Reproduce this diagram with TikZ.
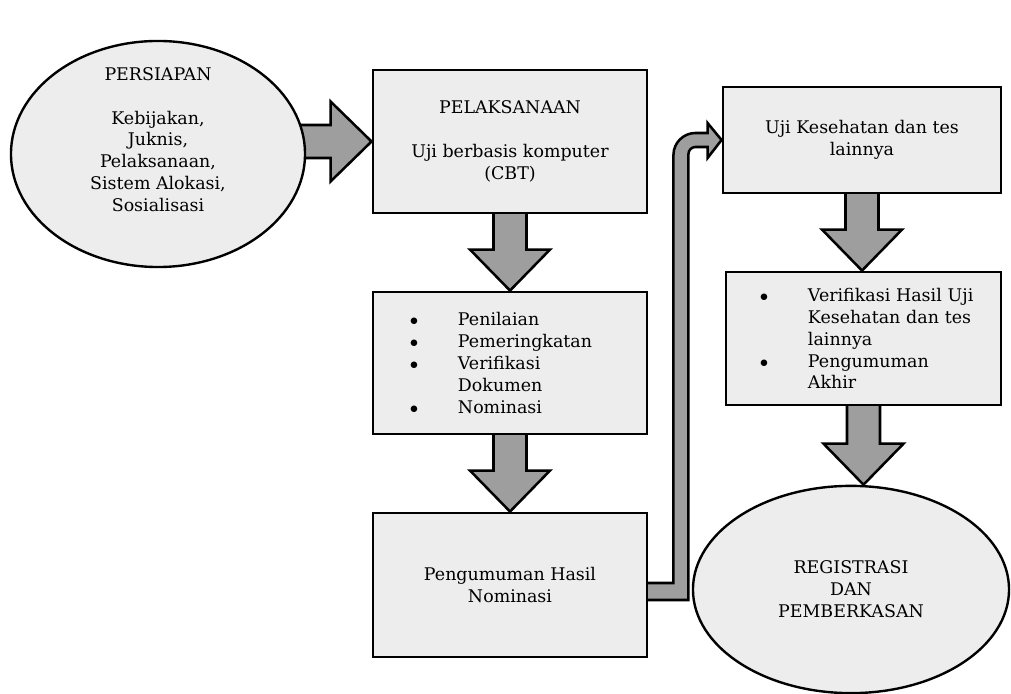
\documentclass[tikz,border=0pt]{standalone}
\usepackage{fontspec}
\setmainfont{DejaVu Serif}
\usetikzlibrary{shapes.geometric,calc,backgrounds}
\tikzset{
  stepfont/.style={font=\fontsize{12.4}{15.6}\selectfont},
  stepbox/.style={rectangle, draw=black, line width=2pt, fill=black!7, inner sep=0pt, align=center, stepfont},
  stepoval/.style={ellipse, draw=black, line width=1.7pt, fill=black!7, inner sep=0pt, align=center, stepfont},
  blockarrow/.style={draw=black, line width=1.8pt, fill=black!38, line join=miter}
}
\def\pix{0.025cm}
\def\bodyw{16.5*\pix}
\def\headw{40*\pix}
\def\headl{41*\pix}
\newcommand{\itemdot}{\makebox[1.2cm][l]{$\bullet$}}
\newcommand{\itemgap}{\makebox[1.2cm][l]{}}
% fat arrow from the bottom of #1 down to the top of #2
\newcommand{\downblock}[2]{%
  \draw[blockarrow] let \p1=(#1.south), \p2=(#2.north) in
    (\x1-\bodyw,\y1+6*\pix) -- (\x1-\bodyw,\y2+\headl) -- (\x1-\headw,\y2+\headl) -- (\x1,\y2)
    -- (\x1+\headw,\y2+\headl) -- (\x1+\bodyw,\y2+\headl) -- (\x1+\bodyw,\y1+6*\pix) -- cycle;}
% fat arrow from #1 right to the side of #2
\newcommand{\rightblock}[2]{%
  \draw[blockarrow] let \p1=(#1.east), \p2=(#2.west) in
    (\x1-8*\pix,\y2+\bodyw) -- (\x2-\headl,\y2+\bodyw) -- (\x2-\headl,\y2+\headw) -- (\x2,\y2)
    -- (\x2-\headl,\y2-\headw) -- (\x2-\headl,\y2-\bodyw) -- (\x1-8*\pix,\y2-\bodyw) -- cycle;}

\begin{document}
\begin{tikzpicture}[x=0.025cm, y=-0.025cm]
    \useasboundingbox (0,0) rectangle (1011,694);

    % Left column
    \node[stepoval, minimum width=7.35cm, minimum height=5.65cm,
          label={[stepfont, align=center, yshift=0.36cm]center:{PERSIAPAN\\[15.6pt]Kebijakan,\\Juknis,\\Pelaksanaan,\\Sistem Alokasi,\\Sosialisasi}}] (persiapan) at (158,154) {};

    % Middle column
    \node[stepbox, minimum width=6.85cm, minimum height=3.575cm] (pelaksanaan) at (510,141.5) {PELAKSANAAN\\[15.6pt]Uji berbasis komputer\\(CBT)};

    \node[stepbox, minimum width=6.85cm, minimum height=3.55cm, text width=5cm, align=left] (penilaian) at (510,363)
        {\itemdot Penilaian\\\itemdot Pemeringkatan\\\itemdot Verifikasi\\\itemgap Dokumen\\\itemdot Nominasi};

    \node[stepbox, minimum width=6.85cm, minimum height=3.6cm] (hasil) at (510,585) {Pengumuman Hasil\\Nominasi};

    % Right column
    \node[stepbox, minimum width=6.95cm, minimum height=2.65cm] (uji) at (862,140) {Uji Kesehatan dan tes\\lainnya};

    \node[stepbox, minimum width=6.875cm, minimum height=3.325cm, text width=5.175cm, align=left] (verifikasi) at (863.5,338.5)
        {\itemdot\mbox{Verifikasi Hasil Uji}\\\itemgap\mbox{Kesehatan dan tes}\\\itemgap lainnya\\\itemdot\mbox{Pengumuman}\\\itemgap Akhir};

    \node[stepoval, minimum width=7.9cm, minimum height=5.18cm] (registrasi) at (851,589.5) {REGISTRASI\\DAN\\PEMBERKASAN};

    % Fat arrows behind the boxes
    \begin{scope}[on background layer]
        \fill[white] (0,0) rectangle (1011,694);
        \rightblock{persiapan}{pelaksanaan}
        \downblock{pelaksanaan}{penilaian}
        \downblock{penilaian}{hasil}
        \downblock{uji}{verifikasi}
        \downblock{verifikasi}{registrasi}
        % bent arrow from the last box up to the right column
        \draw[blockarrow] let \p1=(hasil.east), \p2=(uji.west) in
            (\x1-6*\pix,\y1+2*\pix) -- (\x1-6*\pix,\y1-15*\pix) -- (\x1+40*\pix,\y1-15*\pix)
            -- (\x1+40*\pix,\y2-14*\pix) arc[start angle=180, end angle=90, radius=7*\pix]
            -- (\x2-14*\pix,\y2-7*\pix) -- (\x2-14*\pix,\y2-18*\pix) -- (\x2,\y2)
            -- (\x2-14*\pix,\y2+17*\pix) -- (\x2-14*\pix,\y2+7*\pix)
            -- (\x1+47*\pix,\y2+7*\pix) arc[start angle=90, end angle=180, radius=22*\pix]
            -- (\x1+25*\pix,\y1+2*\pix) -- cycle;
    \end{scope}
\end{tikzpicture}
\end{document}
